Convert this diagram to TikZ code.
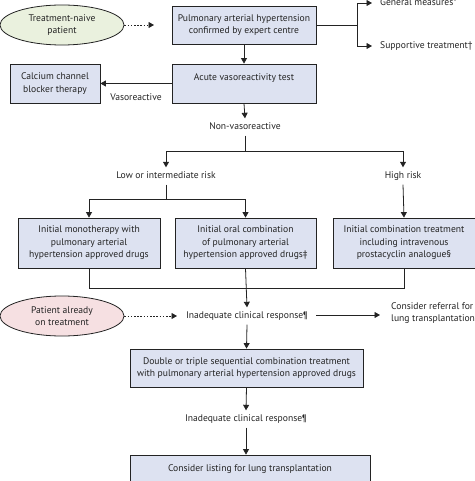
\documentclass[tikz,border=0pt]{standalone}
\usepackage{fontspec}
\setmainfont{PT Sans}
\usetikzlibrary{arrows.meta,shapes.geometric}
\definecolor{boxfill}{RGB}{221,226,241}
\definecolor{greenfill}{RGB}{234,241,222}
\definecolor{pinkfill}{RGB}{246,224,226}
\definecolor{ink}{RGB}{35,35,35}
\tikzset{
  every node/.style={font=\fontsize{9.6}{12.5}\selectfont, text=ink},
  box/.style={draw=ink, line width=0.8pt, fill=boxfill, align=center, inner sep=2pt},
  oval/.style={ellipse, draw=ink, line width=0.8pt, minimum width=124pt, minimum height=40pt, align=center, inner sep=0pt},
  lbl/.style={inner sep=2pt, text height=7pt, text depth=2pt, align=center},
  conn/.style={draw=ink, line width=0.8pt},
  arr/.style={conn, -{Triangle[length=5.5pt,width=6pt]}},
  dots/.style={arr, dash pattern=on 1.6pt off 1.6pt},
}
\begin{document}
\begin{tikzpicture}[x=1pt,y=-1pt]
\useasboundingbox (0,0) rectangle (474,481);
% top row
\node[oval, fill=greenfill] (naive) at (62,25) {Treatment-naive\\patient};
\node[box, minimum width=144pt, minimum height=38pt] (pah) at (244,25) {Pulmonary arterial hypertension\\confirmed by expert centre};
\coordinate (naiveend) at (154,25);
\draw[dots] (naive.east) -- (naiveend);
\coordinate (fork) at (357,25);
\node[lbl, anchor=west, inner xsep=8pt] (gm) at (372,3) {General measures*};
\node[lbl, anchor=west, inner xsep=8pt] (st) at (372,46) {Supportive treatment\textdagger};
\draw[conn] (pah.east) -- (fork);
\draw[arr] (fork) |- (gm.west);
\draw[arr] (fork) |- (st.west);
% second row
\node[box, minimum width=144pt, minimum height=39pt] (acute) at (244,83.5) {Acute vasoreactivity test\\\mbox{}};
\node[box, minimum width=90pt, minimum height=39pt] (ccb) at (55,83.5) {Calcium channel\\blocker therapy};
\draw[arr] (pah.south) -- (acute.north);
\draw[arr] (acute.west) -- (ccb.east) node[midway, below=8pt, lbl] (vaso) {Vasoreactive};
% non-vasoreactive
\node[lbl, inner ysep=4pt] (nv) at (245,127) {Non-vasoreactive};
\draw[arr] (acute.south) -- (nv.north);
\node[lbl, inner ysep=4pt] (lo) at (166,176) {Low or intermediate risk};
\node[lbl, inner ysep=4pt] (hi) at (403,176) {High risk};
\coordinate (split1) at (245,151);
\draw[conn] (nv.south) -- (split1);
\draw[arr] (split1) -| (lo.north);
\draw[arr] (split1) -| (hi.north);
% treatment boxes
\node[box, minimum width=142pt, minimum height=50pt] (b1) at (89,243) {Initial monotherapy with\\pulmonary arterial\\hypertension approved drugs};
\node[box, minimum width=141pt, minimum height=50pt] (b2) at (245.5,243) {Initial oral combination\\of pulmonary arterial\\hypertension approved drugs\textdaggerdbl};
\node[box, minimum width=142pt, minimum height=50pt] (b3) at (404,243) {Initial combination treatment\\including intravenous\\prostacyclin analogue\S};
\coordinate (split2) at (166,199);
\draw[conn] (lo.south) -- (split2);
\draw[arr] (split2) -| (b1.north);
\draw[arr] (split2) -| (b2.north);
\draw[arr] (hi.south) -- (b3.north);
% inadequate response 1
\node[lbl, inner ysep=4pt] (icr1) at (247,316) {Inadequate clinical response\P};
\coordinate (merge) at (89,288);
\draw[conn] (b1.south) -- (merge) -| (b3.south);
\draw[arr] (b2.south) -- (icr1.north);
\node[oval, fill=pinkfill] (already) at (62,316) {Patient already\\on treatment};
\coordinate (alreadyend) at (177,316);
\draw[dots] (already.east) -- (alreadyend);
\node[lbl, anchor=west, align=left, inner xsep=11pt] (referral) at (380,319) {Consider referral for\\lung transplantation};
\draw[arr] (icr1.east) ++(6pt,1pt) coordinate (icr1r) -- (icr1r -| referral.west);
% sequential
\node[box, minimum width=233pt, minimum height=38pt] (dbl) at (246.5,368) {Double or triple sequential combination treatment\\with pulmonary arterial hypertension approved drugs};
\draw[arr] (icr1.south) -- (dbl.north);
\node[lbl, inner ysep=4pt] (icr2) at (246,419) {Inadequate clinical response\P};
\draw[arr] (dbl.south) -- (icr2.north);
\node[box, minimum width=240pt, minimum height=38pt] (list) at (250,474) {Consider listing for lung transplantation\\\mbox{}};
\draw[arr] (icr2.south) -- (list.north -| icr2.south);
\end{tikzpicture}
\end{document}
